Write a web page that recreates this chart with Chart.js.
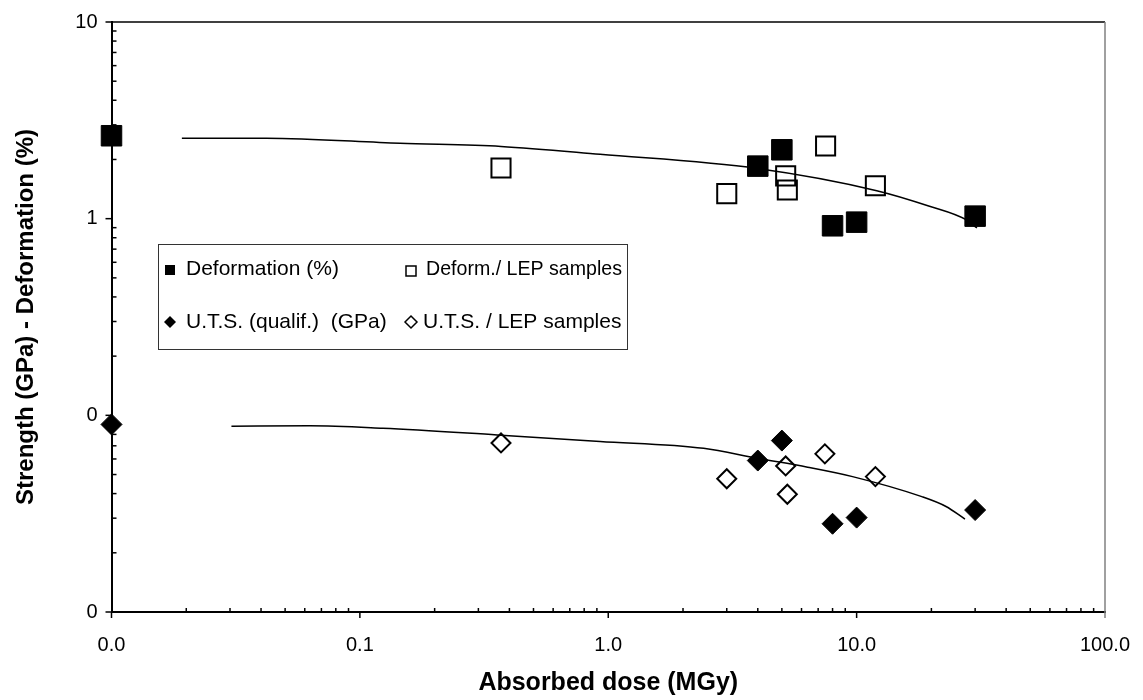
<!DOCTYPE html>
<html lang="en">
<head>
    <meta charset="UTF-8">
    <title>Strength and deformation vs absorbed dose</title>
    <style>
        * {
            margin: 0;
            padding: 0;
            box-sizing: border-box;
        }
        body {
            background: #fff;
            overflow: hidden;
        }
        .chart-box {
            width: 1143px;
            height: 700px;
        }
        canvas {
            display: block;
        }
    </style>
    <script src="https://cdn.jsdelivr.net/npm/chart.js@4.4.1/dist/chart.umd.min.js"></script>
</head>
<body>
    <div class="chart-box">
        <canvas id="doseChart"></canvas>
    </div>

    <script>
        // Values (dose in MGy, log axes)
        const defDose = [0.01, 4, 5, 8, 10, 30];
        const defValue = [2.64, 1.85, 2.24, 0.92, 0.96, 1.03];

        const defLepDose = [0.37, 3, 5.18, 5.26, 7.5, 11.9];
        const defLepValue = [1.81, 1.34, 1.65, 1.40, 2.34, 1.47];

        const utsDose = [0.01, 4, 5, 8, 10, 30];
        const utsValue = [0.0899, 0.0589, 0.0744, 0.0281, 0.0302, 0.0330];

        const utsLepDose = [0.37, 3, 5.18, 5.26, 7.45, 11.9];
        const utsLepValue = [0.0724, 0.0476, 0.0553, 0.0397, 0.0637, 0.0488];

        // fitted trend curves
        const defFitDose = [0.0192, 0.042, 0.145, 0.37, 0.927, 3.98, 12.05, 19.5, 27.7, 30.5];
        const defFitValue = [2.565, 2.565, 2.415, 2.33, 2.125, 1.80, 1.388, 1.16, 0.985, 0.897];

        const utsFitDose = [0.0304, 0.0629, 0.1236, 0.357, 0.927, 2.42, 3.98, 6.35, 9.63, 18.3, 22.9, 27.3];
        const utsFitValue = [0.0880, 0.0886, 0.0860, 0.0795, 0.0737, 0.0680, 0.0605, 0.0545, 0.0488, 0.0386, 0.0344, 0.0297];

        // axis decades; minor ticks at 1..9 of each decade
        const xDecades = [0.01, 0.1, 1, 10, 100];
        const yDecades = [0.01, 0.1, 1, 10];

        function withMinors(decades) {
            const out = [];
            decades.forEach((d, i) => {
                if (i === decades.length - 1) { out.push(d); return; }
                for (let k = 1; k <= 9; k++) out.push(+(k * d).toPrecision(3));
            });
            return out;
        }
        const xTicks = withMinors(xDecades);
        const yTicks = withMinors(yDecades);

        function isDecade(v) {
            const l = Math.log10(v);
            return Math.abs(l - Math.round(l)) < 1e-6;
        }

        function pts(xs, ys) {
            return xs.map((x, i) => ({ x: x, y: ys[i] }));
        }

        Chart.defaults.font.family = '"Liberation Sans", Arial, sans-serif';
        Chart.defaults.color = '#000';

        // tick marks: majors outside, minors inside, plus top and right frame
        const axisMarks = {
            id: 'axisMarks',
            afterDraw(chart) {
                const { ctx, chartArea: a, scales: { x, y } } = chart;
                ctx.save();
                ctx.lineWidth = 1.5;
                x.ticks.forEach(t => {
                    const px = x.getPixelForValue(t.value);
                    ctx.strokeStyle = t.value >= 100 ? '#808080' : '#000';
                    ctx.beginPath();
                    if (isDecade(t.value)) {
                        ctx.moveTo(px, a.bottom);
                        ctx.lineTo(px, a.bottom + 6);
                    } else {
                        ctx.moveTo(px, a.bottom);
                        ctx.lineTo(px, a.bottom - 4);
                    }
                    ctx.stroke();
                });
                ctx.strokeStyle = '#000';
                y.ticks.forEach(t => {
                    const py = y.getPixelForValue(t.value);
                    ctx.beginPath();
                    if (isDecade(t.value)) {
                        ctx.moveTo(a.left - 6, py);
                        ctx.lineTo(a.left, py);
                    } else {
                        ctx.moveTo(a.left, py);
                        ctx.lineTo(a.left + 5, py);
                    }
                    ctx.stroke();
                });
                // top frame
                ctx.beginPath();
                ctx.moveTo(a.left, a.top);
                ctx.lineTo(a.right, a.top);
                ctx.stroke();
                // right frame (grey)
                ctx.strokeStyle = '#808080';
                ctx.beginPath();
                ctx.moveTo(a.right, a.top);
                ctx.lineTo(a.right, a.bottom);
                ctx.stroke();
                ctx.restore();
            }
        };

        // boxed two-column legend inside the plot
        const boxLegend = {
            id: 'boxLegend',
            afterDraw(chart) {
                const ctx = chart.ctx;
                const ds = chart.data.datasets;
                ctx.save();
                ctx.fillStyle = '#fff';
                ctx.strokeStyle = '#333';
                ctx.lineWidth = 1;
                ctx.fillRect(158.5, 244.5, 469, 105);
                ctx.strokeRect(158.5, 244.5, 469, 105);

                const slots = [
                    { mx: 170, my: 270, tx: 186, ty: 269, w: 160 },
                    { mx: 411, my: 271, tx: 426, ty: 269, w: 196 },
                    { mx: 170, my: 322, tx: 186, ty: 322, w: 205 },
                    { mx: 411, my: 322, tx: 423, ty: 322, w: 200 }
                ];
                ctx.font = '21px "Liberation Sans", Arial, sans-serif';
                ctx.textBaseline = 'middle';
                ctx.textAlign = 'left';
                slots.forEach((s, i) => {
                    const d = ds[i];
                    const filled = d.backgroundColor !== 'transparent';
                    ctx.beginPath();
                    if (d.pointStyle === 'rect') {
                        ctx.rect(s.mx - 5, s.my - 5, 10, 10);
                    } else {
                        ctx.moveTo(s.mx - 6, s.my);
                        ctx.lineTo(s.mx, s.my - 6);
                        ctx.lineTo(s.mx + 6, s.my);
                        ctx.lineTo(s.mx, s.my + 6);
                        ctx.closePath();
                    }
                    if (filled) {
                        ctx.fillStyle = '#000';
                        ctx.fill();
                    } else {
                        ctx.strokeStyle = '#000';
                        ctx.lineWidth = 1.5;
                        ctx.stroke();
                    }
                    ctx.fillStyle = '#000';
                    ctx.fillText(d.label, s.tx, s.ty, s.w);
                });
                ctx.restore();
            }
        };

        const ctx = document.getElementById('doseChart').getContext('2d');
        new Chart(ctx, {
            type: 'scatter',
            data: {
                datasets: [
                    {
                        label: 'Deformation (%)',
                        data: pts(defDose, defValue),
                        pointStyle: 'rect',
                        pointRadius: 14.5,
                        borderWidth: 1,
                        borderColor: '#000',
                        backgroundColor: '#000',
                        clip: false
                    },
                    {
                        label: 'Deform./ LEP samples',
                        data: pts(defLepDose, defLepValue),
                        pointStyle: 'rect',
                        pointRadius: 13.5,
                        borderWidth: 2,
                        borderColor: '#000',
                        backgroundColor: 'transparent',
                        clip: false
                    },
                    {
                        label: 'U.T.S. (qualif.)  (GPa)',
                        data: pts(utsDose, utsValue),
                        pointStyle: 'rectRot',
                        pointRadius: 10.5,
                        borderWidth: 1,
                        borderColor: '#000',
                        backgroundColor: '#000',
                        clip: false
                    },
                    {
                        label: 'U.T.S. / LEP samples',
                        data: pts(utsLepDose, utsLepValue),
                        pointStyle: 'rectRot',
                        pointRadius: 9.5,
                        borderWidth: 2,
                        borderColor: '#000',
                        backgroundColor: 'transparent',
                        clip: false
                    },
                    {
                        label: 'fit deformation',
                        data: pts(defFitDose, defFitValue),
                        showLine: true,
                        pointRadius: 0,
                        borderColor: '#000',
                        borderWidth: 1.5,
                        cubicInterpolationMode: 'monotone',
                        clip: false
                    },
                    {
                        label: 'fit U.T.S.',
                        data: pts(utsFitDose, utsFitValue),
                        showLine: true,
                        pointRadius: 0,
                        borderColor: '#000',
                        borderWidth: 1.5,
                        cubicInterpolationMode: 'monotone',
                        clip: false
                    }
                ]
            },
            options: {
                responsive: true,
                maintainAspectRatio: false,
                animation: false,
                layout: {
                    padding: { top: 22, right: 38, bottom: 0, left: 0 }
                },
                plugins: {
                    legend: { display: false },
                    tooltip: { enabled: false }
                },
                scales: {
                    x: {
                        type: 'logarithmic',
                        min: 0.01,
                        max: 100,
                        afterBuildTicks: s => { s.ticks = xTicks.map(v => ({ value: v })); },
                        afterFit: s => {
                            s.height = 88;
                            s.paddingLeft = 0;
                            s.paddingRight = 0;
                        },
                        grid: { display: false, drawTicks: false },
                        border: { display: true, color: '#000', width: 2 },
                        ticks: {
                            autoSkip: false,
                            maxRotation: 0,
                            padding: 21,
                            color: '#000',
                            font: { size: 20 },
                            callback: v => isDecade(v) ? v.toFixed(1) : ''
                        },
                        title: {
                            display: true,
                            text: 'Absorbed dose (MGy)',
                            color: '#000',
                            font: { size: 25, weight: 'bold' },
                            padding: { top: 0, bottom: 2 }
                        }
                    },
                    y: {
                        type: 'logarithmic',
                        min: 0.01,
                        max: 10,
                        afterBuildTicks: s => { s.ticks = yTicks.map(v => ({ value: v })); },
                        afterFit: s => {
                            s.width = 111.5;
                            s.paddingTop = 0;
                            s.paddingBottom = 0;
                        },
                        grid: { display: false, drawTicks: false },
                        border: { display: true, color: '#000', width: 2 },
                        ticks: {
                            autoSkip: false,
                            padding: 14,
                            color: '#000',
                            font: { size: 20 },
                            callback: v => isDecade(v) ? v.toFixed(0) : ''
                        },
                        title: {
                            display: true,
                            text: 'Strength (GPa) - Deformation (%)',
                            color: '#000',
                            font: { size: 24, weight: 'bold' },
                            padding: { top: 12, bottom: 0 }
                        }
                    }
                }
            },
            plugins: [axisMarks, boxLegend]
        });
    </script>
</body>
</html>
